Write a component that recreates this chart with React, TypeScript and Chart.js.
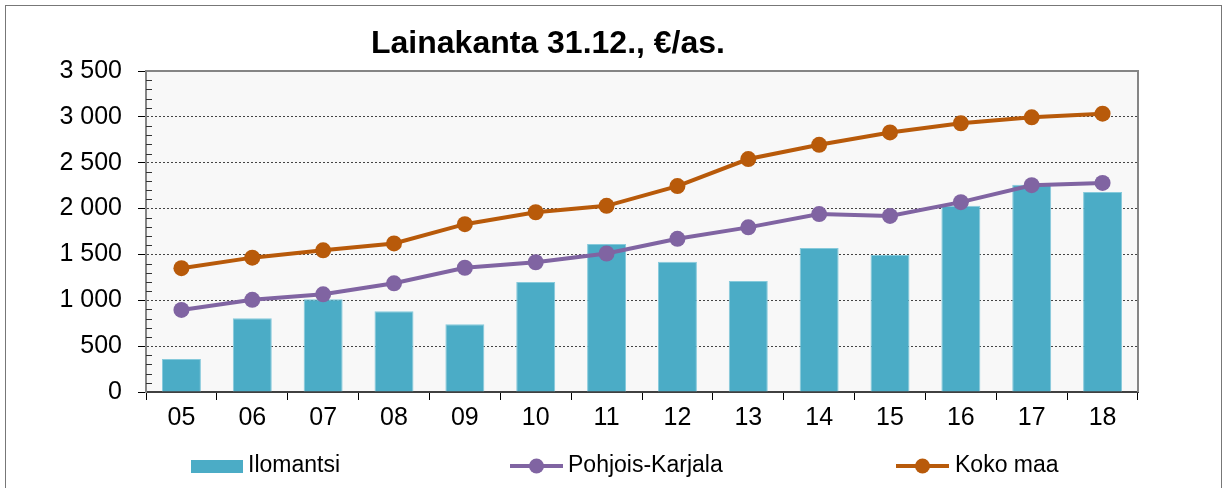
import React, { useEffect, useRef } from "react";
import { Chart, registerables } from "chart.js";

Chart.register(...registerables);

const categories = ["05", "06", "07", "08", "09", "10", "11", "12", "13", "14", "15", "16", "17", "18"];
const ilomantsi = [360, 805, 1010, 880, 740, 1200, 1615, 1420, 1210, 1570, 1495, 2030, 2260, 2180];
const pohjoisKarjala = [895, 1005, 1065, 1185, 1355, 1415, 1510, 1670, 1795, 1940, 1920, 2070, 2255, 2280];
const kokoMaa = [1350, 1465, 1545, 1620, 1830, 1960, 2030, 2245, 2540, 2695, 2830, 2930, 2995, 3035];
const titleText = "Lainakanta 31.12., €/as.";
const yMax = 3500;
const yStep = 500;

const FONT = "'Liberation Sans', Arial, sans-serif";
const BAR = "#4BACC6";
const PURPLE = "#8064A2";
const ORANGE = "#B85A0A";

const fmt = (v: number) => {
  const s = Math.round(v).toString();
  return s.replace(/\B(?=(\d{3})+(?!\d))/g, " ");
};

const decorPlugin = {
  id: "decor",
  beforeDraw(chart: any) {
    const { ctx, chartArea: a, width, height } = chart;
    ctx.save();
    ctx.fillStyle = "#ffffff";
    ctx.fillRect(0, 0, width, height);
    ctx.fillStyle = "#F8F8F8";
    ctx.fillRect(a.left, a.top, a.right - a.left, a.bottom - a.top);
    ctx.strokeStyle = "#777777";
    ctx.lineWidth = 1;
    ctx.strokeRect(5.5, 5.5, 1216, 500);
    ctx.restore();
  },
  afterDraw(chart: any) {
    const { ctx, chartArea: a, scales } = chart;
    const y = scales.y;
    ctx.save();
    // top and right plot border
    ctx.strokeStyle = "#858585";
    ctx.lineWidth = 2;
    ctx.beginPath();
    ctx.moveTo(a.left, a.top);
    ctx.lineTo(a.right, a.top);
    ctx.lineTo(a.right, a.bottom);
    ctx.stroke();
    // minor ticks
    ctx.strokeStyle = "#333333";
    ctx.lineWidth = 1;
    ctx.beginPath();
    for (let v = 100; v < yMax; v += 100) {
      if (v % yStep === 0) continue;
      const py = Math.round(y.getPixelForValue(v)) + 0.5;
      ctx.moveTo(a.left, py);
      ctx.lineTo(a.left + 6, py);
    }
    ctx.stroke();
    // title
    ctx.fillStyle = "#000";
    ctx.font = `bold 32px ${FONT}`;
    ctx.textAlign = "center";
    ctx.textBaseline = "middle";
    ctx.fillText(titleText, 548, 44);
    // legend
    const ds = chart.data.datasets;
    const ly = 466;
    ctx.font = `23px ${FONT}`;
    ctx.textAlign = "left";
    ctx.textBaseline = "middle";
    ctx.fillStyle = BAR;
    ctx.fillRect(191, 460, 52, 13);
    ctx.fillStyle = "#000";
    ctx.fillText(ds[0].label, 248, ly);
    const lineItem = (x0: number, color: string, label: string, tx: number) => {
      ctx.strokeStyle = color;
      ctx.lineWidth = 4;
      ctx.beginPath();
      ctx.moveTo(x0, ly);
      ctx.lineTo(x0 + 53, ly);
      ctx.stroke();
      ctx.fillStyle = color;
      ctx.beginPath();
      ctx.arc(x0 + 26.5, ly, 7.5, 0, Math.PI * 2);
      ctx.fill();
      ctx.fillStyle = "#000";
      ctx.fillText(label, tx, ly);
    };
    lineItem(510, PURPLE, ds[1].label, 568);
    lineItem(896, ORANGE, ds[2].label, 955);
    ctx.restore();
  },
};

export default function App() {
  const ref = useRef<HTMLCanvasElement>(null);
  useEffect(() => {
    if (!ref.current) return;
    const chart = new Chart(ref.current, {
      type: "bar",
      data: {
        labels: categories,
        datasets: [
          {
            type: "bar",
            label: "Ilomantsi",
            data: ilomantsi,
            backgroundColor: BAR,
            borderColor: "#86CADB",
            borderWidth: 1,
            barPercentage: 0.55,
            categoryPercentage: 1,
            order: 3,
          },
          {
            type: "line",
            label: "Pohjois-Karjala",
            data: pohjoisKarjala,
            borderColor: PURPLE,
            backgroundColor: PURPLE,
            borderWidth: 4,
            pointRadius: 8,
            pointBorderWidth: 0,
            pointBackgroundColor: PURPLE,
            tension: 0,
            order: 2,
          },
          {
            type: "line",
            label: "Koko maa",
            data: kokoMaa,
            borderColor: ORANGE,
            backgroundColor: ORANGE,
            borderWidth: 4,
            pointRadius: 8,
            pointBorderWidth: 0,
            pointBackgroundColor: ORANGE,
            tension: 0,
            order: 1,
          },
        ] as any,
      },
      options: {
        responsive: false,
        animation: false,
        devicePixelRatio: 1,
        layout: { padding: { top: 71, right: 91, left: 0, bottom: 0 } },
        plugins: {
          legend: { display: false },
          title: { display: false },
          tooltip: { enabled: false },
        },
        scales: {
          x: {
            type: "category",
            offset: true,
            grid: {
              display: true,
              drawOnChartArea: false,
              drawTicks: true,
              tickLength: 8,
              color: "#000",
              lineWidth: 1,
              offset: true,
            },
            border: { display: true, color: "#404040", width: 2 },
            ticks: {
              font: { family: FONT, size: 25 },
              color: "#000",
              padding: 3,
              maxRotation: 0,
              autoSkip: false,
            },
            afterFit: (s: any) => {
              s.height = 96;
            },
          },
          y: {
            min: 0,
            max: yMax,
            grid: {
              color: "#444444",
              lineWidth: 1,
              tickLength: 8,
              tickColor: "#000",
              tickBorderDash: [],
            },
            border: { display: true, color: "#858585", width: 2, dash: [2, 2] },
            ticks: {
              stepSize: yStep,
              font: { family: FONT, size: 25 },
              color: "#000",
              padding: 16,
              callback: (v: any) => fmt(Number(v)),
            },
            afterFit: (s: any) => {
              s.width = 146;
            },
          },
        },
      } as any,
      plugins: [decorPlugin],
    });
    return () => chart.destroy();
  }, []);
  return (
    <div style={{ position: "absolute", left: 0, top: 0, width: 1229, height: 488 }}>
      <canvas ref={ref} width={1229} height={488} style={{ width: 1229, height: 488, display: "block" }} />
    </div>
  );
}
